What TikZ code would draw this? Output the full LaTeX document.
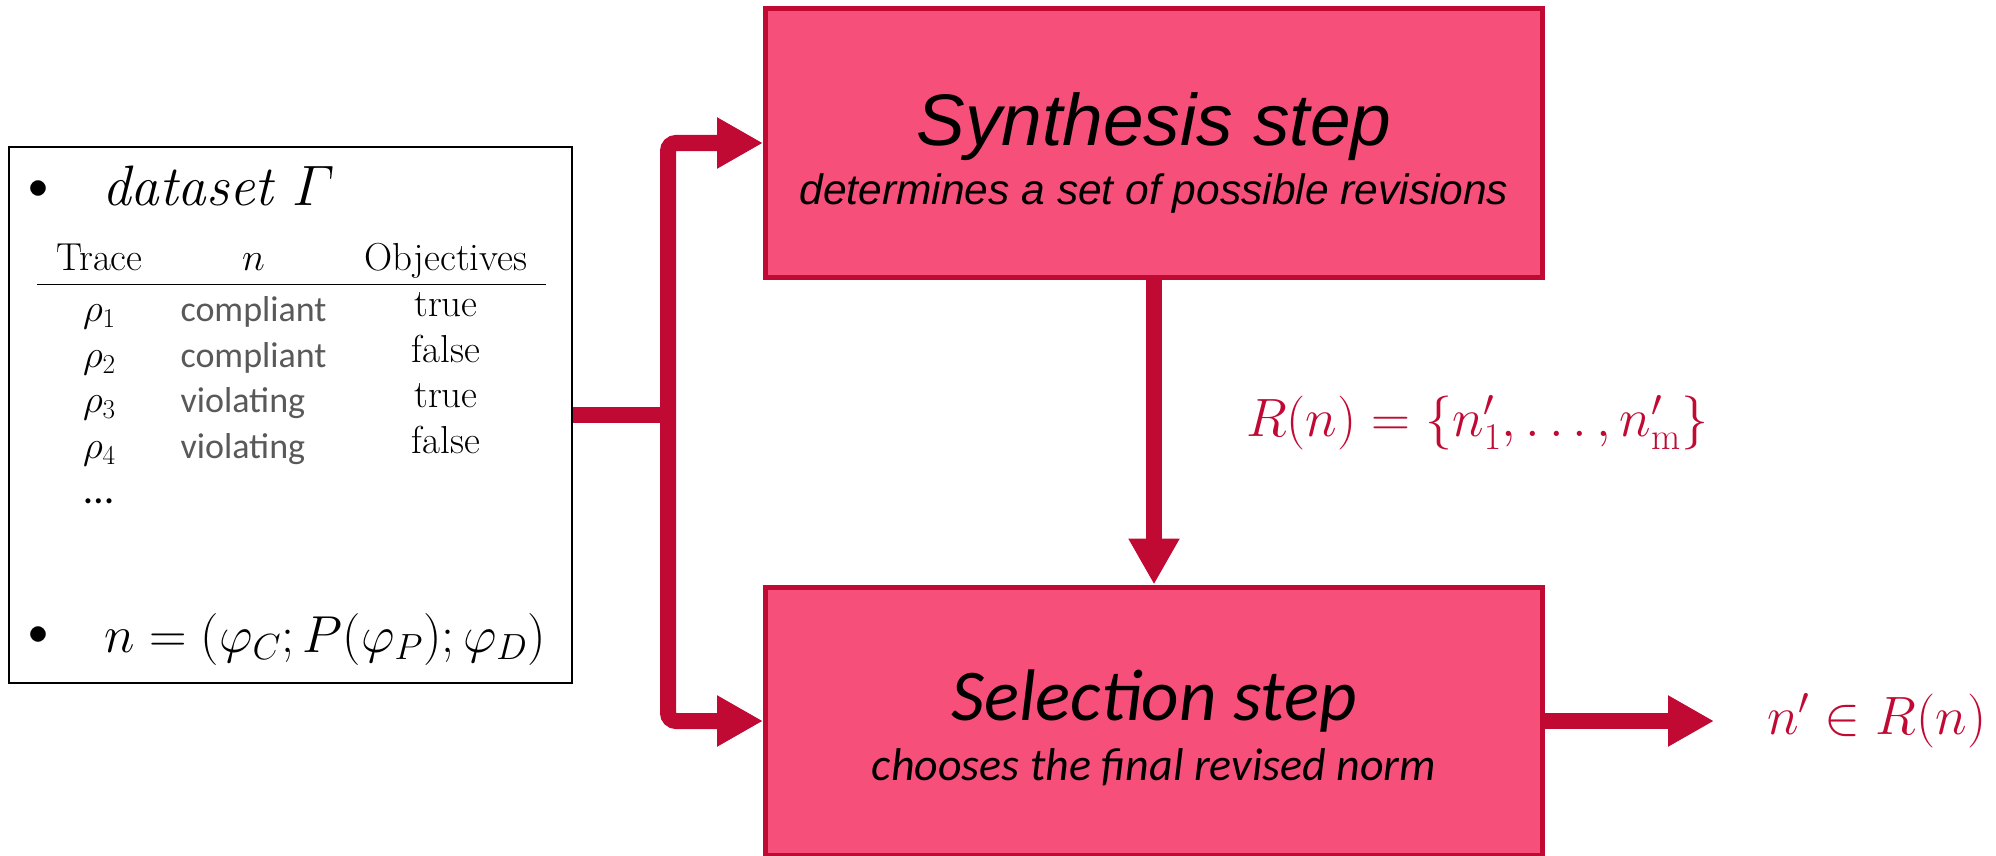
\RequirePackage{fix-cm}
\documentclass[tikz,border=0pt]{standalone}
\usepackage{amsmath}
\usepackage{fontspec}
\newfontfamily\synfont{Liberation Sans}
\newfontfamily\selfont{Carlito}
\usetikzlibrary{arrows.meta,positioning}

\definecolor{stepred}{RGB}{192,10,52}
\definecolor{steppink}{RGB}{246,80,122}
\definecolor{cellgray}{RGB}{89,89,89}
\newcommand{\cellsans}[1]{{\selfont\color{cellgray}\fontsize{36}{45}\selectfont #1}}

\begin{document}
\begin{tikzpicture}[x=1pt,y=-1pt,>={Triangle[width=48pt,length=46pt]},
  stepbox/.style={draw=stepred,line width=5pt,fill=steppink,minimum width=777pt,minimum height=268pt},
  flow/.style={draw=stepred,line width=16pt},
  synhead/.style={font=\synfont\itshape\fontsize{73}{80}\selectfont},
  synsub/.style={font=\synfont\itshape\fontsize{42.5}{48}\selectfont},
  selhead/.style={font=\selfont\itshape\fontsize{73}{80}\selectfont},
  selsub/.style={font=\selfont\itshape\fontsize{46}{52}\selectfont},
  bigmath/.style={font=\fontsize{54}{60}\selectfont,text=stepred,inner sep=0pt}]
  \useasboundingbox (0,0) rectangle (1996,856);

  % input: dataset and norm
  \node[draw,line width=2pt,minimum width=563pt,minimum height=536pt] (data) at (290.5,415) {};
  \node[font=\fontsize{40}{44}\selectfont] (b1) at (38,190) {$\bullet$};
  \node[anchor=base west,inner sep=0pt,font=\fontsize{57}{60}\selectfont] (dset) at (102,205)
    {\textit{dataset} $\varGamma$};
  \node[anchor=north west,inner sep=0pt,font=\fontsize{39}{45}\selectfont] (tab) at (37,238.5) {%
    \setlength{\tabcolsep}{19pt}\setlength{\arrayrulewidth}{1.5pt}%
    \begin{tabular}{clc}
      Trace & \multicolumn{1}{c}{$n$} & Objectives \\ \hline\noalign{\vskip 5pt}
      $\rho_1$ & \cellsans{compliant} & \raisebox{5pt}{true} \\
      $\rho_2$ & \cellsans{compliant} & \raisebox{5pt}{false} \\
      $\rho_3$ & \cellsans{violating} & \raisebox{5pt}{true} \\
      $\rho_4$ & \cellsans{violating} & \raisebox{5pt}{false} \\
      {\selfont\fontsize{42}{45}\selectfont …} & & \\
    \end{tabular}};
  \node[font=\fontsize{40}{44}\selectfont] (b2) at (38,636) {$\bullet$};
  \node[anchor=base west,inner sep=0pt,font=\fontsize{52}{60}\selectfont] (norm) at (104,652)
    {$n = (\varphi_C; P(\varphi_P); \varphi_D)$};

  % the two steps
  \node[stepbox] (syn) at (1154,143) {};
  \node[stepbox,below=305pt of syn] (sel) {};
  \node[synhead,anchor=base] (syntitle) at ([yshift=-3pt]syn.center) {Synthesis step};
  \node[synsub,anchor=base] (synnote) at ([yshift=-61pt]syn.center) {determines a set of possible revisions};
  \node[selhead,anchor=base] (seltitle) at ([yshift=1pt]sel.center) {Selection step};
  \node[selsub,anchor=base] (selnote) at ([yshift=-59pt]sel.center) {chooses the final revised norm};

  \node[bigmath,right=222pt of sel] (pick) {$n' \in R(n)$};

  % connectors
  \coordinate (split) at (668,415);
  \draw[flow] (data) -- (split);
  \draw[flow,->,rounded corners=8pt] (split) |- (syn);
  \draw[flow,->,rounded corners=8pt] (split) |- (sel);
  \draw[flow,->] (syn) -- (sel)
    node[pos=0.47,right=84pt,bigmath] (revset) {$R(n)=\{n'_1,\ldots,n'_{\mathrm{m}}\}$};
  \draw[flow,->,shorten >=53pt] (sel) -- (pick);
\end{tikzpicture}
\end{document}
